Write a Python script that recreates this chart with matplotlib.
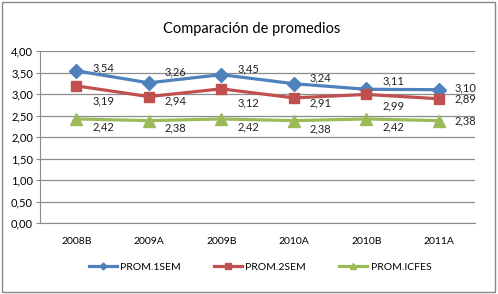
import matplotlib
matplotlib.use("Agg")
import matplotlib.pyplot as plt
from matplotlib.patches import Rectangle

# data
periods = ["2008B", "2009A", "2009B", "2010A", "2010B", "2011A"]
prom_1sem = [3.54, 3.26, 3.45, 3.24, 3.11, 3.10]
prom_2sem = [3.19, 2.94, 3.12, 2.91, 2.99, 2.89]
prom_icfes = [2.42, 2.38, 2.42, 2.38, 2.42, 2.38]
yticks = [0.0, 0.5, 1.0, 1.5, 2.0, 2.5, 3.0, 3.5, 4.0]

# label vertical offsets in pixels (up positive)
dy_1sem = [3, 11, 6, 6, 8, 2]
dy_2sem = [-15, -4, -14, -5, -11, 0]
dy_icfes = [-8, -7, -8, -8, -8, 0]

FONT = "Lato"
plt.rcParams["font.family"] = [FONT, "DejaVu Sans"]

fig = plt.figure(figsize=(4.98, 2.94), dpi=100)
fig.patches.append(Rectangle((0.004, 0.007), 0.99, 0.985, transform=fig.transFigure,
                             fill=False, edgecolor="#888888", linewidth=1.0))

ax = fig.add_axes([0.0803, 0.2415, 0.8735, 0.585])
x = list(range(len(periods)))

series = [
    ("PROM.1SEM", prom_1sem, "#4F81BD", "D", 7, dy_1sem),
    ("PROM.2SEM", prom_2sem, "#C0504D", "s", 7.5, dy_2sem),
    ("PROM.ICFES", prom_icfes, "#9BBB59", "^", 8, dy_icfes),
]
for name, vals, col, mk, ms, dys in series:
    ax.plot(x, vals, color=col, lw=2.3, marker=mk, markersize=ms, label=name, zorder=3)
    for xi, v, dy in zip(x, vals, dys):
        ax.annotate(f"{v:.2f}".replace(".", ","), (xi, v), xytext=(16, dy),
                    textcoords="offset pixels", ha="left", va="center",
                    fontsize=8, color="#222222", zorder=4)

ax.set_xlim(-0.5, len(periods) - 0.5)
ax.set_ylim(0, 4)
ax.set_yticks(yticks)
ax.set_yticklabels([f"{t:.2f}".replace(".", ",") for t in yticks], fontsize=8)
ax.set_xticks(x)
ax.set_xticklabels(periods, fontsize=7.5)
ax.grid(axis="y", color="#8c8c8c", lw=0.9)
ax.set_axisbelow(True)
for s in ["top", "right"]:
    ax.spines[s].set_visible(False)
for s in ["left", "bottom"]:
    ax.spines[s].set_color("#8c8c8c")
ax.tick_params(axis="y", length=3, color="#8c8c8c", pad=2)
ax.tick_params(axis="x", length=0, pad=10)

fig.text(0.505, 0.90, "Comparación de promedios", ha="center", va="center", fontsize=10.5)

leg = fig.legend(loc="center", bbox_to_anchor=(0.522, 0.092), ncol=3, frameon=False,
                 fontsize=7.5, handlelength=2.7, columnspacing=3.2, handletextpad=0.3,
                 markerscale=0.5)

fig.savefig("out.png", dpi=100)
